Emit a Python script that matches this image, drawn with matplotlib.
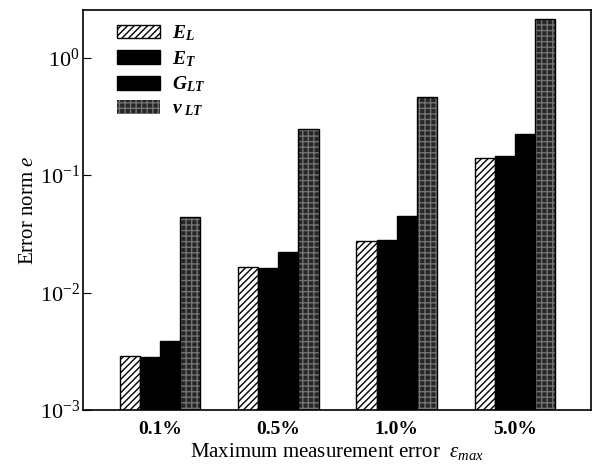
import numpy as np
import matplotlib
matplotlib.use('Agg')
import matplotlib.pyplot as plt

# values (log scale)
categories = ['0.1%', '0.5%', '1.0%', '5.0%']
e_l = [2.9e-3, 1.66e-2, 2.76e-2, 0.141]
e_t = [2.85e-3, 1.63e-2, 2.8e-2, 0.146]
g_lt = [3.9e-3, 2.22e-2, 4.48e-2, 0.223]
nu_lt = [4.4e-2, 0.245, 0.458, 2.11]
labels = [r'$\mathbf{E}_{\mathbf{L}}$', r'$\mathbf{E}_{\mathbf{T}}$',
          r'$\mathbf{G}_{\mathbf{LT}}$', r'$\mathbf{\nu}_{\ \mathbf{LT}}$']

plt.rcParams['font.family'] = ['Liberation Serif', 'DejaVu Serif']
plt.rcParams['mathtext.fontset'] = 'custom'
plt.rcParams['mathtext.rm'] = 'Liberation Serif'
plt.rcParams['mathtext.it'] = 'Liberation Serif:italic'
plt.rcParams['mathtext.bf'] = 'Liberation Serif:italic:bold'


def main():
    fig = plt.figure(figsize=(6.0, 4.66), dpi=100)
    ax = fig.add_axes([0.138, 0.120, 0.847, 0.859])

    x = np.arange(len(categories))
    w = 0.17
    offs = np.array([-1.5, -0.5, 0.5, 1.5]) * w

    ax.bar(x + offs[0], e_l, w, color='white', edgecolor='black', hatch='/////',
           linewidth=1.0, label=labels[0])
    ax.bar(x + offs[1], e_t, w, color='black', edgecolor='black', linewidth=1.0, label=labels[1])
    ax.bar(x + offs[2], g_lt, w, color='black', edgecolor='black', linewidth=1.0, label=labels[2])
    ax.bar(x + offs[3], nu_lt, w, color='0.15', edgecolor='0.45', hatch='+++',
           linewidth=0, label=labels[3])
    ax.bar(x + offs[3], nu_lt, w, fill=False, edgecolor='black', linewidth=1.0)

    ax.set_yscale('log')
    ax.set_ylim(1e-3, 2.55)
    ax.set_xlim(-0.65, 3.64)
    ax.set_yticks([1e-3, 1e-2, 1e-1, 1e0])
    ax.yaxis.set_minor_locator(matplotlib.ticker.NullLocator())
    ax.set_xticks(x)
    ax.set_xticklabels(categories, fontsize=14, fontweight='bold')
    ax.tick_params(axis='x', length=0, pad=8)
    ax.tick_params(axis='y', direction='in', length=6, labelsize=16, pad=2)

    ax.set_ylabel(r'Error norm $e$', fontsize=15, labelpad=1)
    ax.set_xlabel(r'Maximum measurement error  $\varepsilon_{max}$', fontsize=15, labelpad=2)

    ax.legend(loc='upper left', bbox_to_anchor=(0.045, 0.995), frameon=False, fontsize=14,
              handlelength=2.2, handleheight=0.7, labelspacing=0.3, handletextpad=0.6,
              borderaxespad=0.2)

    for s in ax.spines.values():
        s.set_linewidth(1.2)

    fig.savefig('out.png', dpi=100)


if __name__ == "__main__":
    main()
